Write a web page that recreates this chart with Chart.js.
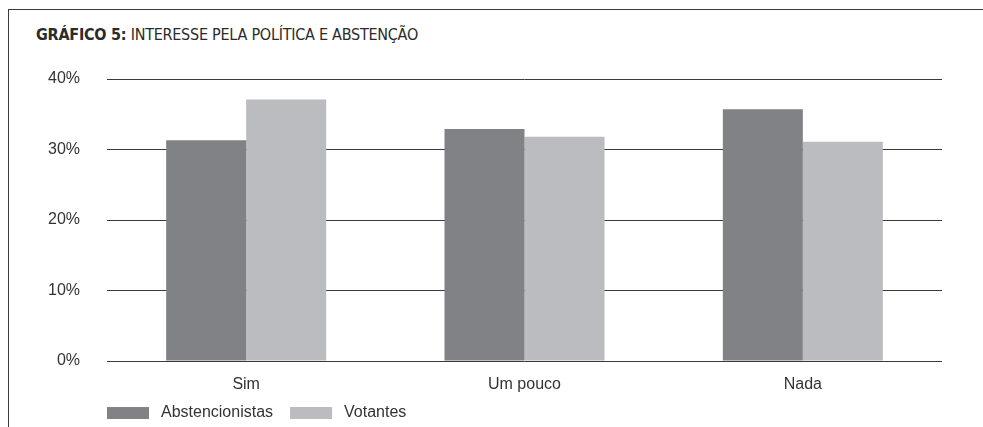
<!DOCTYPE html>
<html>
<head>
<meta charset="utf-8">
<script src="https://cdn.jsdelivr.net/npm/chart.js@4.4.1/dist/chart.umd.min.js"></script>
<style>
  html, body { margin: 0; padding: 0; background: #fff; }
  #wrap { position: relative; width: 983px; height: 427px; overflow: hidden; }
  #frame { position: absolute; left: 8px; top: 9px; right: -2px; bottom: -2px;
           border-left: 1.5px solid #3a3a3a; border-top: 1.5px solid #3a3a3a; }
  #title { position: absolute; left: 36px; top: 27px; font-family: "Liberation Sans Narrow", "DejaVu Sans Condensed", "Liberation Sans", sans-serif;
           font-size: 16px; letter-spacing: -0.25px; color: #2b2b2b; white-space: nowrap; line-height: 1; }
  #title b { font-weight: bold; }
  canvas { position: absolute; left: 0; top: 0; }
</style>
</head>
<body>
<div id="wrap">
  <div id="frame"></div>
  <div id="title"><b>GRÁFICO 5:</b> INTERESSE PELA POLÍTICA E ABSTENÇÃO</div>
  <canvas id="c" width="983" height="427"></canvas>
</div>
<script>
const categories = ["Sim", "Um pouco", "Nada"];
const abstencionistas = [31.3, 32.9, 35.7];
const votantes = [37.1, 31.8, 31.1];
const seriesNames = ["Abstencionistas", "Votantes"];
const yTicks = [0, 10, 20, 30, 40];

const FONT = '"Liberation Sans", Arial, sans-serif';
const TEXT = '#333333';

const legendPlugin = {
  id: 'customLegend',
  afterDraw(chart) {
    const ctx = chart.ctx;
    ctx.save();
    ctx.font = '16px ' + FONT;
    ctx.textBaseline = 'middle';
    ctx.fillStyle = TEXT;
    let x = chart.chartArea.left;
    const yMid = 413;
    chart.data.datasets.forEach((ds) => {
      ctx.fillStyle = ds.backgroundColor;
      ctx.fillRect(x, yMid - 6, 42, 12);
      x += 42 + 12;
      ctx.fillStyle = TEXT;
      ctx.fillText(ds.label, x, yMid);
      x += ctx.measureText(ds.label).width + 17;
    });
    ctx.restore();
  }
};

new Chart(document.getElementById('c'), {
  type: 'bar',
  data: {
    labels: categories,
    datasets: [
      { label: seriesNames[0], data: abstencionistas, backgroundColor: '#818285', borderWidth: 0 },
      { label: seriesNames[1], data: votantes, backgroundColor: '#bbbcbf', borderWidth: 0 }
    ]
  },
  options: {
    responsive: false,
    animation: false,
    devicePixelRatio: 1,
    layout: { padding: { left: 0, right: 41, top: 79, bottom: 0 } },
    plugins: { legend: { display: false }, tooltip: { enabled: false }, title: { display: false } },
    datasets: { bar: { categoryPercentage: 0.575, barPercentage: 1.0 } },
    scales: {
      x: {
        grid: { display: false, drawTicks: false },
        border: { display: false },
        ticks: { color: TEXT, font: { family: FONT, size: 16 }, padding: 14 },
        afterFit(scale) { scale.height = 66; }
      },
      y: {
        min: 0, max: 40,
        afterBuildTicks(scale) { scale.ticks = yTicks.map(v => ({ value: v })); },
        grid: { color: '#3a3a3a', lineWidth: 1, drawTicks: false },
        border: { display: false },
        ticks: { color: TEXT, font: { family: FONT, size: 16 }, padding: 27, callback: v => v + '%' },
        afterFit(scale) { scale.width = 107; }
      }
    }
  },
  plugins: [legendPlugin]
});
</script>
</body>
</html>
